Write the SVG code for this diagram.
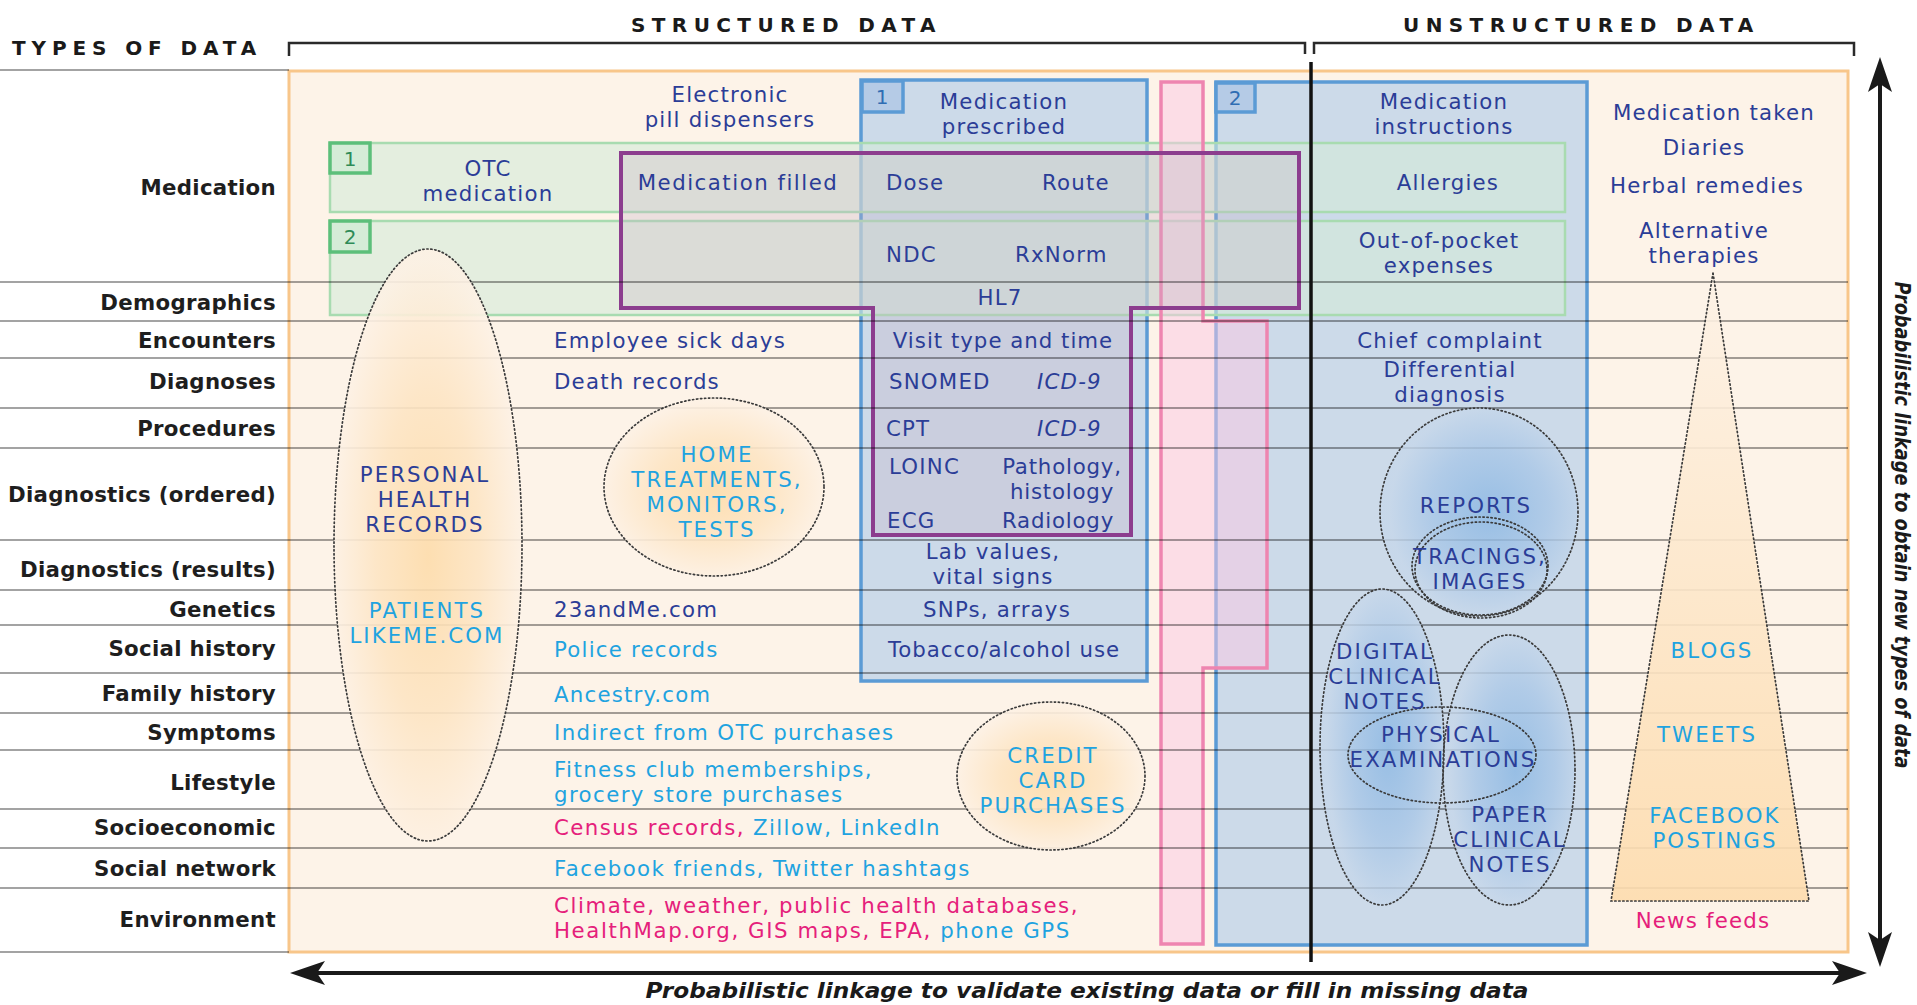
<svg xmlns="http://www.w3.org/2000/svg" width="1917" height="1005" viewBox="0 0 1917 1005">
<defs>
<style>
text{font-family:"DejaVu Sans","Liberation Sans",sans-serif;font-size:21.3px;letter-spacing:1.2px}
.hdr{font-weight:700;font-size:20px;letter-spacing:6.4px;fill:#1a1a1a}
.lbl{font-weight:700;fill:#1e1e1e;text-anchor:end;letter-spacing:.3px}
.nv{fill:#2b3d97}
.cy{fill:#1fa3e0}
.mg{fill:#e5207b}
.cap{letter-spacing:2.1px}
.c{text-anchor:middle}
.it{font-style:italic}
.num{font-size:20px;text-anchor:middle;letter-spacing:0}
.axis{font-weight:700;font-style:italic;fill:#1a1a1a;letter-spacing:0}
.row{stroke:#000;stroke-opacity:.36;stroke-width:2;fill:none}
.dot{stroke:#3a3a3a;stroke-width:1.7;stroke-dasharray:1.3 2.7;stroke-linecap:round}
.bluebox{fill:#c7d7e9;fill-opacity:.9;stroke:#5b9bd5;stroke-width:3.5}
.bluetag{fill:#b5cbe6;stroke:#5b9bd5;stroke-width:3.5}
.greenbox{fill:#d4ebd9;fill-opacity:.6;stroke:#a8dbb0;stroke-width:2.5}
.greentag{fill:#d5ecd7;stroke:#5cbf7a;stroke-width:3.5}
.oell{fill:url(#gOr);fill-opacity:.9}
.bell{fill:url(#gBl);fill-opacity:.8}
</style>
<radialGradient id="gOr" cx="50%" cy="52%" r="50%">
<stop offset="0" stop-color="#fddcab"/>
<stop offset=".55" stop-color="#fde5c4"/>
<stop offset="1" stop-color="#fdf1e4"/>
</radialGradient>
<radialGradient id="gBl" cx="55%" cy="50%" r="50%">
<stop offset="0" stop-color="#8ab7e3"/>
<stop offset=".6" stop-color="#a9c7e7"/>
<stop offset="1" stop-color="#c6d7ea"/>
</radialGradient>
<linearGradient id="gTri" x1="0" y1="0" x2="0" y2="1">
<stop offset="0" stop-color="#fdf2e6"/>
<stop offset="1" stop-color="#fddcae"/>
</linearGradient>
<marker id="ah" viewBox="0 -13 36 26" refX="8" refY="0" markerWidth="36" markerHeight="26" markerUnits="userSpaceOnUse" orient="auto-start-reverse">
<path d="M0,-12 L35,0 L0,12 L8,0 Z" fill="#1a1a1a"/>
</marker>
</defs>

<rect width="1917" height="1005" fill="#ffffff"/>

<!-- column headers and brackets -->
<g id="headers">
<text class="hdr" x="12" y="55" style="letter-spacing:5.9px">TYPES OF DATA</text>
<text class="hdr" x="631" y="32">STRUCTURED DATA</text>
<text class="hdr" x="1403" y="32">UNSTRUCTURED DATA</text>
<path d="M289,56 V43 H1305 V54 M1314,54 V43 H1854 V56" fill="none" stroke="#2a2a2a" stroke-width="2.5"/>
</g>

<!-- main data field -->
<rect id="field" x="289" y="71" width="1559" height="881" fill="#fdf3e8" stroke="#f8c68a" stroke-width="3"/>

<!-- source boxes -->
<g id="prescribed-box">
<rect class="bluebox" x="861" y="80" width="286" height="601"/>
</g>
<g id="instructions-box">
<rect class="bluebox" x="1216" y="82" width="371" height="863"/>
</g>
<g id="green-boxes">
<rect class="greenbox" x="330" y="143" width="1235" height="69"/>
<rect class="greenbox" x="330" y="221" width="1235" height="94"/>
</g>
<g id="pink-band">
<path d="M1161,82 H1203 V321 H1267 V668 H1203 V944 H1161 Z" fill="#fbc7e4" fill-opacity=".5" stroke="#ee85b0" stroke-width="3.5"/>
</g>
<g id="filled-box">
<path d="M621,153 H1299 V308 H1131 V535 H873 V308 H621 Z" fill="#c8b4c8" fill-opacity=".3" stroke="#8c3d8e" stroke-width="4"/>
</g>

<!-- row separators -->
<path class="row" d="M0,70 H289 M0,952 H289 M0,282 H1848 M0,321 H1848 M0,358 H1848 M0,408 H1848 M0,448 H1848 M0,540 H1848 M0,590 H1848 M0,625 H1848 M0,673 H1848 M0,713 H1848 M0,750 H1848 M0,809 H1848 M0,848 H1848 M0,888 H1848"/>

<!-- structured / unstructured divider -->
<path id="divider" d="M1311,62 V962" stroke="#111" stroke-width="3.5"/>

<!-- grouped sources -->
<g id="personal-health-records">
<ellipse class="oell" cx="428" cy="545" rx="94" ry="296"/>
<ellipse class="dot" cx="428" cy="545" rx="94" ry="296" fill="none"/>
<text class="nv c cap" x="425" y="482">PERSONAL<tspan x="425" dy="25">HEALTH</tspan><tspan x="425" dy="25">RECORDS</tspan></text>
<text class="cy c cap" x="427" y="618">PATIENTS<tspan x="427" dy="25">LIKEME.COM</tspan></text>
</g>
<g id="home-tests">
<ellipse class="oell" cx="714" cy="487" rx="110" ry="89"/>
<ellipse class="dot" cx="714" cy="487" rx="110" ry="89" fill="none"/>
<text class="cy c cap" x="717" y="462">HOME<tspan x="717" dy="25">TREATMENTS,</tspan><tspan x="717" dy="25">MONITORS,</tspan><tspan x="717" dy="25">TESTS</tspan></text>
</g>
<g id="credit-card">
<ellipse class="oell" cx="1051" cy="776" rx="94" ry="74"/>
<ellipse class="dot" cx="1051" cy="776" rx="94" ry="74" fill="none"/>
<text class="cy c cap" x="1053" y="763">CREDIT<tspan x="1053" dy="25">CARD</tspan><tspan x="1053" dy="25">PURCHASES</tspan></text>
</g>
<g id="reports">
<ellipse class="bell" cx="1479" cy="512" rx="99" ry="104"/>
<ellipse class="dot" cx="1479" cy="512" rx="99" ry="104" fill="none"/>
<ellipse class="dot" cx="1480" cy="566" rx="68" ry="49" fill="none"/>
<ellipse class="dot" cx="1481" cy="570" rx="66" ry="48" fill="none"/>
<text class="nv c cap" x="1476" y="513">REPORTS</text>
<text class="nv c cap" x="1480" y="564">TRACINGS,<tspan x="1480" dy="25">IMAGES</tspan></text>
</g>
<g id="clinical-notes">
<ellipse class="bell" cx="1382" cy="747" rx="62" ry="158"/>
<ellipse class="bell" cx="1509" cy="770" rx="66" ry="135"/>
<ellipse class="dot" cx="1382" cy="747" rx="62" ry="158" fill="none"/>
<ellipse class="dot" cx="1509" cy="770" rx="66" ry="135" fill="none"/>
<ellipse class="dot" cx="1442" cy="755" rx="94" ry="48" fill="none"/>
<text class="nv c cap" x="1385" y="659">DIGITAL<tspan x="1385" dy="25">CLINICAL</tspan><tspan x="1385" dy="25">NOTES</tspan></text>
<text class="nv c cap" x="1441" y="742">PHYSICAL<tspan x="1443" dy="25">EXAMINATIONS</tspan></text>
<text class="nv c cap" x="1510" y="822">PAPER<tspan x="1510" dy="25">CLINICAL</tspan><tspan x="1510" dy="25">NOTES</tspan></text>
</g>
<g id="social-media">
<polygon points="1713,273 1611,901 1809,901" fill="url(#gTri)" fill-opacity=".9"/>
<polygon class="dot" points="1713,273 1611,901 1809,901" fill="none"/>
<text class="cy c cap" x="1712" y="658">BLOGS</text>
<text class="cy c cap" x="1707" y="742">TWEETS</text>
<text class="cy c cap" x="1715" y="823">FACEBOOK<tspan x="1715" dy="25">POSTINGS</tspan></text>
</g>

<!-- numbered tags -->
<g id="tags">
<rect class="greentag" x="330" y="143" width="40" height="30"/>
<text class="num" x="350" y="166" fill="#2e8b57">1</text>
<rect class="greentag" x="330" y="221" width="40" height="31"/>
<text class="num" x="350" y="244" fill="#2e8b57">2</text>
<rect class="bluetag" x="862" y="81" width="41" height="31"/>
<text class="num" x="882" y="104" fill="#2f6db3">1</text>
<rect class="bluetag" x="1216" y="83" width="39" height="29"/>
<text class="num" x="1235" y="105" fill="#2f6db3">2</text>
</g>

<!-- row labels -->
<g id="row-labels">
<text class="lbl" x="276" y="195">Medication</text>
<text class="lbl" x="276" y="310">Demographics</text>
<text class="lbl" x="276" y="348">Encounters</text>
<text class="lbl" x="276" y="389">Diagnoses</text>
<text class="lbl" x="276" y="436">Procedures</text>
<text class="lbl" x="276" y="502">Diagnostics (ordered)</text>
<text class="lbl" x="276" y="577">Diagnostics (results)</text>
<text class="lbl" x="276" y="617">Genetics</text>
<text class="lbl" x="276" y="656">Social history</text>
<text class="lbl" x="276" y="701">Family history</text>
<text class="lbl" x="276" y="740">Symptoms</text>
<text class="lbl" x="276" y="790">Lifestyle</text>
<text class="lbl" x="276" y="835">Socioeconomic</text>
<text class="lbl" x="276" y="876">Social network</text>
<text class="lbl" x="276" y="927">Environment</text>
</g>

<!-- structured entries -->
<g id="structured-items">
<text class="nv c" x="730" y="102">Electronic<tspan x="730" dy="25">pill dispensers</tspan></text>
<text class="nv c" x="1004" y="109">Medication<tspan x="1004" dy="25">prescribed</tspan></text>
<text class="nv c" x="488" y="176">OTC<tspan x="488" dy="25">medication</tspan></text>
<text class="nv c" x="738" y="190" style="letter-spacing:1.5px">Medication filled</text>
<text class="nv" x="886" y="190">Dose</text>
<text class="nv" x="1042" y="190">Route</text>
<text class="nv" x="886" y="262">NDC</text>
<text class="nv" x="1015" y="262">RxNorm</text>
<text class="nv c" x="1000" y="305">HL7</text>
<text class="nv" x="554" y="348">Employee sick days</text>
<text class="nv c" x="1003" y="348" style="letter-spacing:1px">Visit type and time</text>
<text class="nv" x="554" y="389">Death records</text>
<text class="nv" x="889" y="389">SNOMED</text>
<text class="nv it" x="1037" y="389">ICD-9</text>
<text class="nv" x="886" y="436">CPT</text>
<text class="nv it" x="1037" y="436">ICD-9</text>
<text class="nv" x="889" y="474">LOINC</text>
<text class="nv c" x="1062" y="474" style="letter-spacing:.8px">Pathology,<tspan x="1062" dy="25">histology</tspan></text>
<text class="nv" x="887" y="528">ECG</text>
<text class="nv c" x="1058" y="528" style="letter-spacing:.8px">Radiology</text>
<text class="nv c" x="993" y="559">Lab values,<tspan x="993" dy="25">vital signs</tspan></text>
<text class="nv" x="554" y="617">23andMe.com</text>
<text class="nv c" x="997" y="617">SNPs, arrays</text>
<text class="cy" x="554" y="657">Police records</text>
<text class="nv c" x="1004" y="657" style="letter-spacing:1px">Tobacco/alcohol use</text>
<text class="cy" x="554" y="702">Ancestry.com</text>
<text class="cy" x="554" y="740" style="letter-spacing:1.4px">Indirect from OTC purchases</text>
<text class="cy" x="554" y="777" style="letter-spacing:1.4px">Fitness club memberships,<tspan x="554" dy="25">grocery store purchases</tspan></text>
<text class="mg" x="554" y="835" style="letter-spacing:1.4px">Census records, <tspan class="cy">Zillow, LinkedIn</tspan></text>
<text class="cy" x="554" y="876" style="letter-spacing:1.4px">Facebook friends, Twitter hashtags</text>
<text class="mg" x="554" y="913" style="letter-spacing:1.6px">Climate, weather, public health databases,<tspan x="554" dy="25">HealthMap.org, GIS maps, EPA, </tspan><tspan class="cy">phone GPS</tspan></text>
</g>

<!-- unstructured entries -->
<g id="unstructured-items">
<text class="nv c" x="1444" y="109">Medication<tspan x="1444" dy="25">instructions</tspan></text>
<text class="nv c" x="1448" y="190">Allergies</text>
<text class="nv c" x="1439" y="248">Out-of-pocket<tspan x="1439" dy="25">expenses</tspan></text>
<text class="nv c" x="1450" y="348">Chief complaint</text>
<text class="nv c" x="1450" y="377">Differential<tspan x="1450" dy="25">diagnosis</tspan></text>
<text class="nv c" x="1714" y="120">Medication taken</text>
<text class="nv c" x="1704" y="155">Diaries</text>
<text class="nv c" x="1707" y="193">Herbal remedies</text>
<text class="nv c" x="1704" y="238">Alternative<tspan x="1704" dy="25">therapies</tspan></text>
<text class="mg c" x="1703" y="928">News feeds</text>
</g>

<!-- linkage axes -->
<g id="connectors">
<line x1="317" y1="973" x2="1840" y2="973" stroke="#1a1a1a" stroke-width="4" marker-start="url(#ah)" marker-end="url(#ah)"/>
<line x1="1880" y1="84" x2="1880" y2="940" stroke="#1a1a1a" stroke-width="4" marker-start="url(#ah)" marker-end="url(#ah)"/>
<text class="axis c" x="1087" y="998" textLength="883" lengthAdjust="spacingAndGlyphs">Probabilistic linkage to validate existing data or fill in missing data</text>
<text class="axis c" transform="translate(1895,525) rotate(90)" textLength="487" lengthAdjust="spacingAndGlyphs">Probabilistic linkage to obtain new types of data</text>
</g>
</svg>
